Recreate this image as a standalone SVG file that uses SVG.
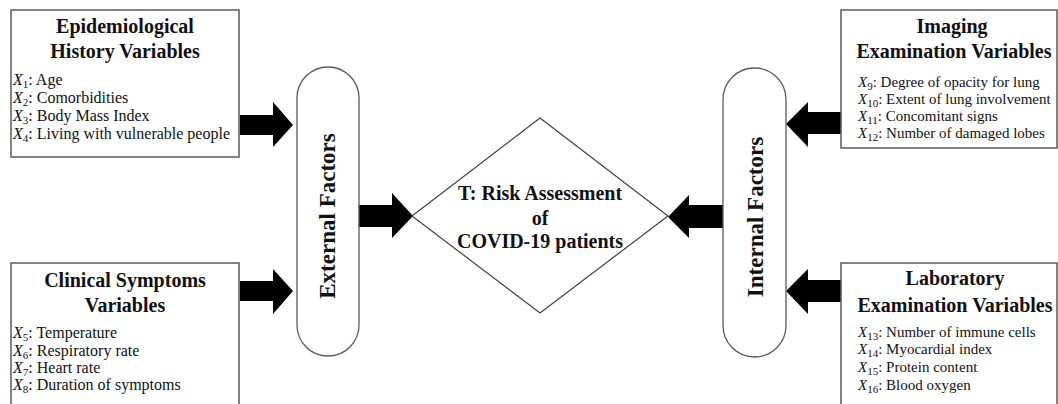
<svg xmlns="http://www.w3.org/2000/svg" width="1058" height="404" viewBox="0 0 1058 404">
<style>
.box{fill:#fff;stroke:#5a5a5a;stroke-width:1.5}
.pill{fill:#fff;stroke:#5a5a5a;stroke-width:1.3}
.dia{fill:#fff;stroke:#404040;stroke-width:1.2}
.arr{fill:#000}
.t{font-family:"Liberation Serif","Times New Roman",serif;font-weight:bold;font-size:20px;fill:#111;text-anchor:middle}
.big{font-family:"Liberation Serif","Times New Roman",serif;font-weight:bold;font-size:20px;fill:#111;text-anchor:middle}
.rot{font-family:"Liberation Serif","Times New Roman",serif;font-weight:bold;font-size:23px;fill:#111;text-anchor:middle}
.it{font-family:"Liberation Serif","Times New Roman",serif;font-size:16px;fill:#111}
.ir{font-family:"Liberation Serif","Times New Roman",serif;font-size:15px;fill:#111}
.x{font-style:italic}
.s{font-size:11px}
</style>
<g id="connectors">
<polygon class="arr" points="240,115 273,115 273,102 293,125 273,147 273,135 240,135"/>
<polygon class="arr" points="240,281 273,281 273,269 293,291 273,314 273,301 240,301"/>
<polygon class="arr" points="357,205 392,205 392,193 413,216 392,238 392,227 357,227"/>
<polygon class="arr" points="723,205 689,205 689,195 668,217 689,238 689,228 723,228"/>
<polygon class="arr" points="841,112 808,112 808,102 786,124 808,147 808,134 841,134"/>
<polygon class="arr" points="841,280 808,280 808,269 786,291 808,314 808,302 841,302"/>
</g>
<g id="epi">
<rect class="box" x="11" y="10" width="228" height="147"/>
<text class="t" x="125" y="33">Epidemiological</text>
<text class="t" x="125" y="58">History Variables</text>
<text class="it" x="13" y="85"><tspan class="x">X</tspan><tspan class="s" dy="3">1</tspan><tspan dy="-3">: Age</tspan></text>
<text class="it" x="13" y="103"><tspan class="x">X</tspan><tspan class="s" dy="3">2</tspan><tspan dy="-3">: Comorbidities</tspan></text>
<text class="it" x="13" y="121"><tspan class="x">X</tspan><tspan class="s" dy="3">3</tspan><tspan dy="-3">: Body Mass Index</tspan></text>
<text class="it" x="13" y="139"><tspan class="x">X</tspan><tspan class="s" dy="3">4</tspan><tspan dy="-3">: Living with vulnerable people</tspan></text>
</g>
<g id="clin">
<rect class="box" x="11" y="263" width="228" height="160"/>
<text class="t" x="125" y="287">Clinical Symptoms</text>
<text class="t" x="125" y="312">Variables</text>
<text class="it" x="13" y="338"><tspan class="x">X</tspan><tspan class="s" dy="3">5</tspan><tspan dy="-3">: Temperature</tspan></text>
<text class="it" x="13" y="356"><tspan class="x">X</tspan><tspan class="s" dy="3">6</tspan><tspan dy="-3">: Respiratory rate</tspan></text>
<text class="it" x="13" y="373"><tspan class="x">X</tspan><tspan class="s" dy="3">7</tspan><tspan dy="-3">: Heart rate</tspan></text>
<text class="it" x="13" y="390"><tspan class="x">X</tspan><tspan class="s" dy="3">8</tspan><tspan dy="-3">: Duration of symptoms</tspan></text>
</g>
<g id="img">
<rect class="box" x="841" y="10" width="216" height="138"/>
<text class="t" x="952" y="33">Imaging</text>
<text class="t" x="954" y="58">Examination Variables</text>
<text class="ir" x="858" y="87"><tspan class="x">X</tspan><tspan class="s" dy="3">9</tspan><tspan dy="-3">:  Degree of opacity for lung</tspan></text>
<text class="ir" x="858" y="104"><tspan class="x">X</tspan><tspan class="s" dy="3">10</tspan><tspan dy="-3">: Extent of lung involvement</tspan></text>
<text class="ir" x="858" y="121"><tspan class="x">X</tspan><tspan class="s" dy="3">11</tspan><tspan dy="-3">: Concomitant signs</tspan></text>
<text class="ir" x="858" y="138"><tspan class="x">X</tspan><tspan class="s" dy="3">12</tspan><tspan dy="-3">: Number of damaged lobes</tspan></text>
</g>
<g id="lab">
<rect class="box" x="841" y="263" width="216" height="160"/>
<text class="t" x="955" y="285">Laboratory</text>
<text class="t" x="955" y="312">Examination Variables</text>
<text class="ir" x="858" y="337"><tspan class="x">X</tspan><tspan class="s" dy="3">13</tspan><tspan dy="-3">: Number of immune cells</tspan></text>
<text class="ir" x="858" y="354"><tspan class="x">X</tspan><tspan class="s" dy="3">14</tspan><tspan dy="-3">: Myocardial index</tspan></text>
<text class="ir" x="858" y="372"><tspan class="x">X</tspan><tspan class="s" dy="3">15</tspan><tspan dy="-3">: Protein content</tspan></text>
<text class="ir" x="858" y="390"><tspan class="x">X</tspan><tspan class="s" dy="3">16</tspan><tspan dy="-3">: Blood oxygen</tspan></text>
</g>
<g id="external">
<rect class="pill" x="297" y="67" width="62" height="289" rx="31" ry="31"/>
<text class="rot" transform="translate(327,216) rotate(-90)" x="0" y="8">External Factors</text>
</g>
<g id="internal">
<rect class="pill" x="723" y="68" width="63" height="289" rx="31.5" ry="31.5"/>
<text class="rot" transform="translate(755,217) rotate(-90)" x="0" y="8">Internal Factors</text>
</g>
<g id="risk">
<polygon class="dia" points="540,118 668,216 540,313 412,216"/>
<text class="big" x="540" y="200">T: Risk Assessment</text>
<text class="big" x="540" y="225">of</text>
<text class="big" x="540" y="248">COVID-19 patients</text>
</g>
</svg>
